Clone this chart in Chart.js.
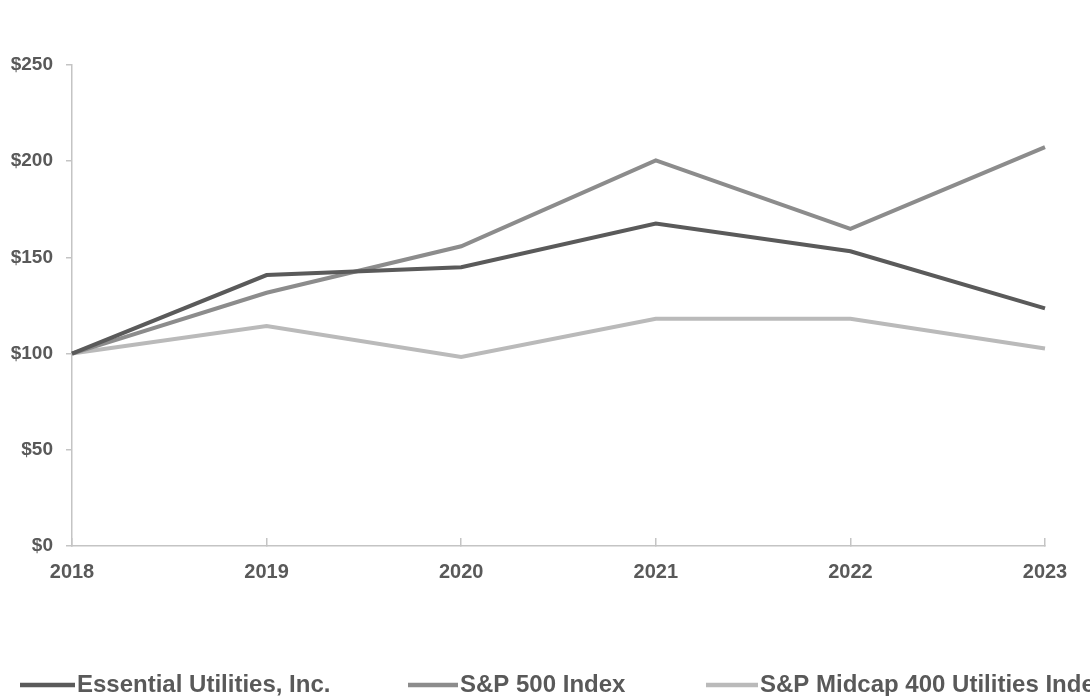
<!DOCTYPE html>
<html>
<head>
<meta charset="utf-8">
<script src="https://cdn.jsdelivr.net/npm/chart.js@4"></script>
<style>
  html, body { margin: 0; padding: 0; background: #fff; }
  #wrap { width: 1090px; height: 696px; position: relative; }
</style>
</head>
<body>
<div id="wrap"><canvas id="perfChart"></canvas></div>
<script>
const years = ["2018", "2019", "2020", "2021", "2022", "2023"];
const seriesNames = ["Essential Utilities, Inc.", "S&P 500 Index", "S&P Midcap 400 Utilities Index"];
const essential = [100, 140.8, 144.9, 167.6, 153.2, 123.5];
const sp500 = [100, 131.6, 155.8, 200.4, 164.8, 207.3];
const midcap = [100, 114.3, 98.2, 118.1, 118.1, 102.7];
const yMin = 0, yMax = 250, yStep = 50;

const FONT = '"Liberation Sans", Arial, sans-serif';
const TEXT = "#595959";
const AXIS = "#c4c4c4";

// legend drawn by hand so the items sit where the original has them
const bottomLegend = {
  id: "bottomLegend",
  afterDraw(chart, args, opts) {
    const ctx = chart.ctx;
    ctx.save();
    ctx.font = "bold 24px " + FONT;
    ctx.fillStyle = TEXT;
    ctx.textBaseline = "middle";
    chart.data.datasets.forEach((ds, i) => {
      const x = opts.x[i], len = opts.len[i];
      ctx.strokeStyle = ds.borderColor;
      ctx.lineWidth = 4.5;
      ctx.beginPath();
      ctx.moveTo(x, opts.y);
      ctx.lineTo(x + len, opts.y);
      ctx.stroke();
      ctx.fillText(ds.label, x + len + 2, opts.y);
    });
    ctx.restore();
  }
};

const ctx = document.getElementById("perfChart").getContext("2d");
const perfChart = new Chart(ctx, {
  type: "line",
  data: {
    labels: years,
    datasets: [
      { label: seriesNames[0], data: essential, borderColor: "#5a5a5a" },
      { label: seriesNames[1], data: sp500, borderColor: "#8c8c8c" },
      { label: seriesNames[2], data: midcap, borderColor: "#bababa" }
    ]
  },
  options: {
    responsive: true,
    maintainAspectRatio: false,
    animation: false,
    layout: { padding: { top: 65, right: 45, left: 0, bottom: 0 } },
    elements: {
      line: { borderWidth: 4, tension: 0, borderCapStyle: "butt", borderJoinStyle: "miter" },
      point: { radius: 0, hoverRadius: 0 }
    },
    datasets: { line: { clip: false } },
    plugins: {
      legend: { display: false },
      tooltip: { enabled: false },
      bottomLegend: { x: [20, 408, 706], len: [55, 50, 52], y: 685 }
    },
    scales: {
      x: {
        offset: false,
        border: { color: AXIS, width: 1.5 },
        grid: { drawOnChartArea: false, tickLength: -8, color: AXIS, lineWidth: 1.5 },
        ticks: { color: TEXT, font: { family: FONT, size: 20, weight: "bold" }, padding: 22, maxRotation: 0 },
        afterFit(scale) { scale.height = 150; }
      },
      y: {
        min: yMin,
        max: yMax,
        border: { color: AXIS, width: 1.5 },
        grid: { drawOnChartArea: false, tickLength: 6, color: AXIS, lineWidth: 1.5 },
        ticks: {
          stepSize: yStep,
          color: TEXT,
          padding: 13,
          font: { family: FONT, size: 19, weight: "bold" },
          callback: v => "$" + v
        },
        afterFit(scale) { scale.width = 72; }
      }
    }
  },
  plugins: [bottomLegend]
});
</script>
</body>
</html>
